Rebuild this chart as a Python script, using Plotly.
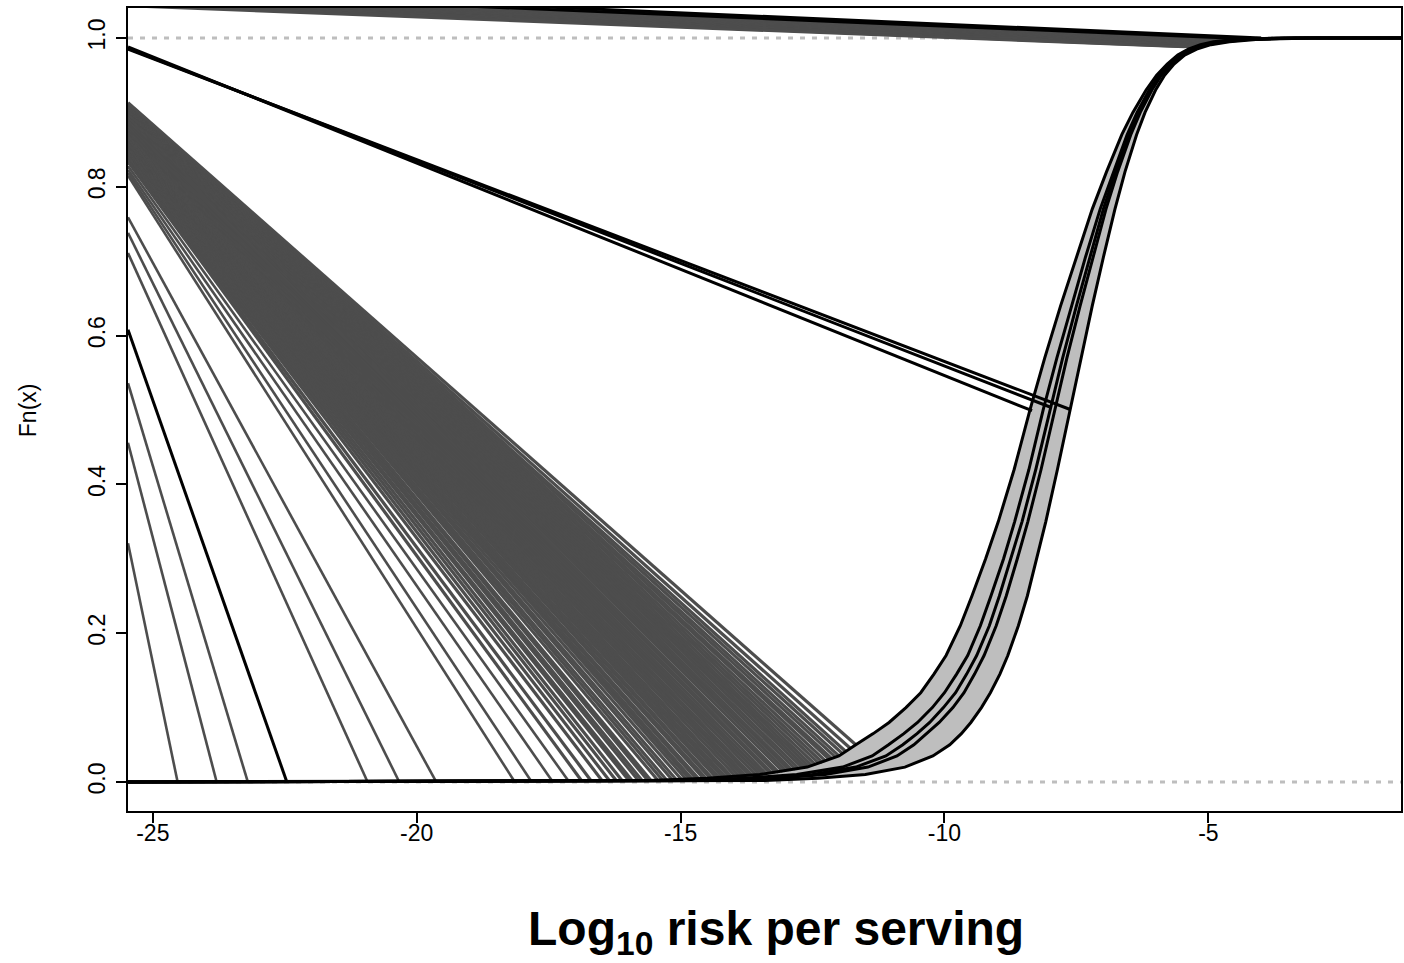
import plotly.graph_objects as go

# Axis limits (log10 risk on x, cumulative probability on y)
X_MIN, X_MAX = -25.47, -1.35
Y_MIN, Y_MAX = -0.039, 1.0403

x_tick_vals = [-25, -20, -15, -10, -5]
x_tick_text = ["-25", "-20", "-15", "-10", "-5"]
y_tick_vals = [0.0, 0.2, 0.4, 0.6, 0.8, 1.0]
y_tick_text = ["0.0", "0.2", "0.4", "0.6", "0.8", "1.0"]

# Probability levels at which the ECDF curves are sampled
ecdf_levels = [0.0, 0.001, 0.002, 0.005, 0.01, 0.02, 0.035, 0.05, 0.065, 0.08, 0.1, 0.12,
               0.145, 0.17, 0.21, 0.25, 0.3, 0.35, 0.42, 0.5, 0.57, 0.64, 0.705, 0.77,
               0.82, 0.87, 0.9, 0.93, 0.95, 0.965, 0.977, 0.985, 0.991, 0.995, 0.998,
               1.0, 1.0]

# Envelope of the uncertainty band (left = lower quantile, right = upper quantile)
band_left_x = [-25.47, -16.5, -15.6, -14.5, -13.5, -12.6, -12.0, -11.68, -11.35, -11.05,
               -10.73, -10.45, -10.2, -9.97, -9.7, -9.48, -9.22, -8.98, -8.68, -8.38,
               -8.1, -7.8, -7.5, -7.2, -6.93, -6.64, -6.43, -6.18, -5.98, -5.78, -5.58,
               -5.38, -5.15, -4.9, -4.5, -3.7, -1.35]
band_right_x = [-25.47, -14.2, -13.4, -12.4, -11.5, -10.75, -10.22, -9.9, -9.68, -9.5,
                -9.3, -9.13, -8.95, -8.8, -8.6, -8.43, -8.25, -8.08, -7.86, -7.62,
                -7.41, -7.2, -6.99, -6.77, -6.58, -6.36, -6.2, -6.0, -5.83, -5.65, -5.45,
                -5.22, -4.95, -4.6, -4.1, -3.0, -1.35]

# Central ECDF curves inside the band
curve_a_x = [-25.47, -15.7, -14.83, -13.8, -12.8, -11.93, -11.37, -11.06, -10.77, -10.51,
             -10.23, -10.0, -9.77, -9.56, -9.32, -9.12, -8.88, -8.67, -8.40, -8.13,
             -7.87, -7.59, -7.33, -7.05, -6.80, -6.54, -6.35, -6.12, -5.93, -5.74, -5.54,
             -5.33, -5.08, -4.80, -4.38, -3.5, -1.35]
curve_b_x = [-25.47, -15.35, -14.5, -13.45, -12.5, -11.68, -11.11, -10.79, -10.52, -10.28,
             -10.02, -9.79, -9.58, -9.39, -9.15, -8.96, -8.74, -8.53, -8.27, -8.0,
             -7.76, -7.5, -7.25, -6.99, -6.76, -6.5, -6.32, -6.09, -5.91, -5.72, -5.52,
             -5.3, -5.05, -4.75, -4.3, -3.35, -1.35]
curve_c_x = [-25.47, -15.08, -14.24, -13.2, -12.26, -11.45, -10.9, -10.58, -10.33, -10.1,
             -9.84, -9.63, -9.43, -9.25, -9.02, -8.83, -8.62, -8.42, -8.17, -7.91,
             -7.68, -7.43, -7.19, -6.94, -6.72, -6.47, -6.29, -6.07, -5.89, -5.71, -5.5,
             -5.28, -5.02, -4.7, -4.25, -3.25, -1.35]

# Isolated grey segments from the left border down to the zero line
sparse_start_y = [0.321, 0.456, 0.536, 0.711, 0.738, 0.759, 0.815, 0.819, 0.823, 0.828]
sparse_end_x = [-24.53, -23.79, -23.2, -20.93, -20.33, -19.63, -18.15, -17.83, -17.43, -17.12]
sparse_end_y = [0.0, 0.0, 0.0, 0.0, 0.0, 0.0, 0.001, 0.001, 0.001, 0.001]

# Dense bundle of grey segments ending on the lower tail of the band
dense_start_y = [0.834, 0.835, 0.836, 0.837, 0.838, 0.840, 0.841, 0.842, 0.843, 0.845,
                 0.846, 0.847, 0.848, 0.849, 0.851, 0.852, 0.853, 0.854, 0.856, 0.857,
                 0.858, 0.859, 0.860, 0.862, 0.863, 0.864, 0.865, 0.866, 0.868, 0.869,
                 0.870, 0.871, 0.872, 0.874, 0.875, 0.876, 0.877, 0.879, 0.880, 0.881,
                 0.882, 0.883, 0.885, 0.886, 0.887, 0.888, 0.889, 0.891, 0.892, 0.893,
                 0.894, 0.895, 0.897, 0.898, 0.899, 0.900, 0.901, 0.902, 0.903, 0.904,
                 0.905, 0.906, 0.907, 0.908, 0.909, 0.910, 0.911, 0.912, 0.913]
dense_end_x = [-16.88, -16.70, -16.49, -16.35, -16.22, -16.11, -15.98, -15.92, -15.80, -15.73,
               -15.62, -15.56, -15.44, -15.35, -15.27, -15.16, -15.08, -14.99, -14.90, -14.83,
               -14.78, -14.70, -14.65, -14.57, -14.52, -14.44, -14.40, -14.33, -14.27, -14.20,
               -14.14, -14.08, -14.03, -13.95, -13.89, -13.82, -13.76, -13.70, -13.65, -13.57,
               -13.51, -13.44, -13.38, -13.31, -13.27, -13.20, -13.14, -13.06, -13.00, -12.94,
               -12.89, -12.82, -12.76, -12.69, -12.63, -12.57, -12.51, -12.44, -12.38, -12.31,
               -12.25, -12.18, -12.13, -12.06, -12.00, -11.93, -11.87, -11.78, -11.68]
dense_end_y = [0.002, 0.002, 0.002, 0.002, 0.002, 0.002, 0.002, 0.002, 0.002, 0.002,
               0.002, 0.002, 0.003, 0.003, 0.003, 0.003, 0.003, 0.004, 0.004, 0.004,
               0.004, 0.004, 0.004, 0.005, 0.005, 0.005, 0.005, 0.006, 0.006, 0.006,
               0.006, 0.007, 0.007, 0.007, 0.008, 0.008, 0.008, 0.009, 0.009, 0.009,
               0.010, 0.010, 0.011, 0.012, 0.012, 0.013, 0.013, 0.014, 0.015, 0.016,
               0.016, 0.017, 0.018, 0.019, 0.020, 0.021, 0.022, 0.023, 0.025, 0.026,
               0.028, 0.030, 0.031, 0.033, 0.035, 0.038, 0.041, 0.045, 0.050]

# Black segment in the lower-left corner
low_black_start_y = [0.608]
low_black_end_x = [-22.46]
low_black_end_y = [0.0]

# Black segments ending at the median of the distribution
mid_black_start_y = [0.988, 0.986, 0.985]
mid_black_end_x = [-8.34, -8.0, -7.63]
mid_black_end_y = [0.499, 0.504, 0.501]

# Nearly flat segments along the upper border
top_grey_start_y = [1.060, 1.058, 1.056, 1.054, 1.052, 1.050, 1.049, 1.048, 1.047, 1.046, 1.045, 1.043]
top_grey_end_x = [-4.5, -4.6, -4.7, -4.8, -4.9, -5.0, -5.05, -5.1, -5.2, -5.25, -5.35, -5.45]
top_grey_end_y = [0.997, 0.996, 0.995, 0.994, 0.993, 0.992, 0.991, 0.990, 0.990, 0.989, 0.988, 0.988]
top_black_start_y = [1.066, 1.062]
top_black_end_x = [-4.0, -4.3]
top_black_end_y = [1.0, 0.999]

reference_levels = [0.0, 1.0]

GREY_LINE = "#4d4d4d"
BAND_FILL = "#bebebe"
FONT = "Liberation Sans, Arial"


def segments(start_y, end_x, end_y):
    assert len(start_y) == len(end_x) == len(end_y)
    xs, ys = [], []
    for y0, x1, y1 in zip(start_y, end_x, end_y):
        xs += [X_MIN, x1, None]
        ys += [y0, y1, None]
    return xs, ys


fig = go.Figure()

# dotted reference lines at 0 and 1
for lvl in reference_levels:
    fig.add_trace(go.Scatter(x=[X_MIN, X_MAX], y=[lvl, lvl], mode="lines",
                             line=dict(color=BAND_FILL, width=3, dash="5px,7px"),
                             hoverinfo="skip"))

# uncertainty band
fig.add_trace(go.Scatter(x=band_left_x + band_right_x[::-1],
                         y=ecdf_levels + ecdf_levels[::-1],
                         mode="lines", fill="toself", fillcolor=BAND_FILL,
                         line=dict(width=0, color=BAND_FILL), hoverinfo="skip"))

# grey segments
for sy, ex, ey, w in [(sparse_start_y, sparse_end_x, sparse_end_y, 2.6),
                      (dense_start_y, dense_end_x, dense_end_y, 3.2),
                      (top_grey_start_y, top_grey_end_x, top_grey_end_y, 2.6)]:
    xs, ys = segments(sy, ex, ey)
    fig.add_trace(go.Scatter(x=xs, y=ys, mode="lines",
                             line=dict(color=GREY_LINE, width=w), hoverinfo="skip"))

# ECDF curves: envelope outlines and central curves
for cx in [band_left_x, band_right_x, curve_a_x, curve_b_x, curve_c_x]:
    fig.add_trace(go.Scatter(x=cx, y=ecdf_levels, mode="lines",
                             line=dict(color="black", width=3), hoverinfo="skip"))

# black segments
for sy, ex, ey in [(low_black_start_y, low_black_end_x, low_black_end_y),
                   (mid_black_start_y, mid_black_end_x, mid_black_end_y),
                   (top_black_start_y, top_black_end_x, top_black_end_y)]:
    xs, ys = segments(sy, ex, ey)
    fig.add_trace(go.Scatter(x=xs, y=ys, mode="lines",
                             line=dict(color="black", width=3), hoverinfo="skip"))

axis_common = dict(showgrid=False, zeroline=False, showline=True, mirror=True,
                   linecolor="black", linewidth=2, ticks="outside", ticklen=10,
                   tickwidth=2, tickcolor="black",
                   tickfont=dict(family=FONT, size=23, color="black"))

fig.update_xaxes(range=[X_MIN, X_MAX], tickvals=x_tick_vals, ticktext=x_tick_text,
                 ticklabelstandoff=-10, **axis_common)
fig.update_yaxes(range=[Y_MIN, Y_MAX], tickvals=y_tick_vals, ticktext=y_tick_text,
                 tickangle=-90, ticklabelstandoff=2, **axis_common)

fig.add_annotation(text="Fn(x)", xref="paper", yref="paper", x=-0.0784, y=0.4994,
                   xanchor="center", yanchor="middle", textangle=-90, showarrow=False,
                   font=dict(family=FONT, size=23, color="black"))
fig.add_annotation(text="<b>Log<sub>10</sub> risk per serving</b>", xref="paper", yref="paper",
                   x=0.509, y=-0.151, xanchor="center", yanchor="middle", showarrow=False,
                   font=dict(family=FONT, size=48, color="black"))

fig.update_layout(width=1404, height=963, margin=dict(l=128, r=1, t=8, b=152),
                  plot_bgcolor="white", paper_bgcolor="white", showlegend=False)

fig.write_html("out.html")
